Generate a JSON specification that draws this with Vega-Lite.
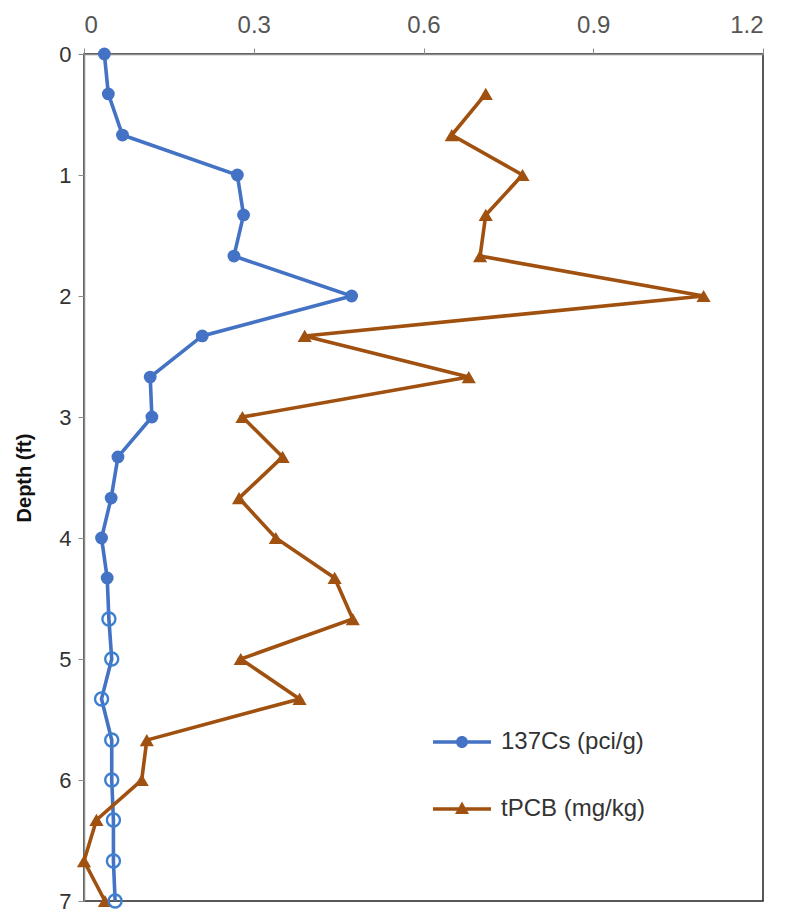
{
  "$schema": "https://vega.github.io/schema/vega-lite/v6.json",
  "autosize": "none",
  "width": 679,
  "height": 847,
  "padding": {"left": 84, "top": 54, "right": 26, "bottom": 15},
  "background": "white",
  "config": {
    "font": "Liberation Sans",
    "view": {"stroke": "#222222", "strokeWidth": 1.5},
    "axis": {"grid": false, "labelFont": "Liberation Sans", "labelFontSize": 24, "labelColor": "#555555", "domainColor": "#8a8a8a", "tickColor": "#8a8a8a", "tickSize": 6, "domainWidth": 1.5}
  },
  "data": {
    "values": [
      {"series": "137Cs (pci/g)", "depth": 0, "value": 0.036, "filled": true},
      {"series": "137Cs (pci/g)", "depth": 0.33, "value": 0.043, "filled": true},
      {"series": "137Cs (pci/g)", "depth": 0.67, "value": 0.068, "filled": true},
      {"series": "137Cs (pci/g)", "depth": 1.0, "value": 0.271, "filled": true},
      {"series": "137Cs (pci/g)", "depth": 1.33, "value": 0.282, "filled": true},
      {"series": "137Cs (pci/g)", "depth": 1.67, "value": 0.265, "filled": true},
      {"series": "137Cs (pci/g)", "depth": 2.0, "value": 0.473, "filled": true},
      {"series": "137Cs (pci/g)", "depth": 2.33, "value": 0.209, "filled": true},
      {"series": "137Cs (pci/g)", "depth": 2.67, "value": 0.117, "filled": true},
      {"series": "137Cs (pci/g)", "depth": 3.0, "value": 0.12, "filled": true},
      {"series": "137Cs (pci/g)", "depth": 3.33, "value": 0.06, "filled": true},
      {"series": "137Cs (pci/g)", "depth": 3.67, "value": 0.048, "filled": true},
      {"series": "137Cs (pci/g)", "depth": 4.0, "value": 0.031, "filled": true},
      {"series": "137Cs (pci/g)", "depth": 4.33, "value": 0.041, "filled": true},
      {"series": "137Cs (pci/g)", "depth": 4.67, "value": 0.044, "filled": false},
      {"series": "137Cs (pci/g)", "depth": 5.0, "value": 0.049, "filled": false},
      {"series": "137Cs (pci/g)", "depth": 5.33, "value": 0.031, "filled": false},
      {"series": "137Cs (pci/g)", "depth": 5.67, "value": 0.049, "filled": false},
      {"series": "137Cs (pci/g)", "depth": 6.0, "value": 0.049, "filled": false},
      {"series": "137Cs (pci/g)", "depth": 6.33, "value": 0.052, "filled": false},
      {"series": "137Cs (pci/g)", "depth": 6.67, "value": 0.052, "filled": false},
      {"series": "137Cs (pci/g)", "depth": 7.0, "value": 0.055, "filled": false},
      {"series": "tPCB (mg/kg)", "depth": 0.33, "value": 0.71, "filled": true},
      {"series": "tPCB (mg/kg)", "depth": 0.67, "value": 0.65, "filled": true},
      {"series": "tPCB (mg/kg)", "depth": 1.0, "value": 0.775, "filled": true},
      {"series": "tPCB (mg/kg)", "depth": 1.33, "value": 0.71, "filled": true},
      {"series": "tPCB (mg/kg)", "depth": 1.67, "value": 0.70, "filled": true},
      {"series": "tPCB (mg/kg)", "depth": 2.0, "value": 1.095, "filled": true},
      {"series": "tPCB (mg/kg)", "depth": 2.33, "value": 0.39, "filled": true},
      {"series": "tPCB (mg/kg)", "depth": 2.67, "value": 0.68, "filled": true},
      {"series": "tPCB (mg/kg)", "depth": 3.0, "value": 0.28, "filled": true},
      {"series": "tPCB (mg/kg)", "depth": 3.33, "value": 0.351, "filled": true},
      {"series": "tPCB (mg/kg)", "depth": 3.67, "value": 0.274, "filled": true},
      {"series": "tPCB (mg/kg)", "depth": 4.0, "value": 0.339, "filled": true},
      {"series": "tPCB (mg/kg)", "depth": 4.33, "value": 0.443, "filled": true},
      {"series": "tPCB (mg/kg)", "depth": 4.67, "value": 0.475, "filled": true},
      {"series": "tPCB (mg/kg)", "depth": 5.0, "value": 0.277, "filled": true},
      {"series": "tPCB (mg/kg)", "depth": 5.33, "value": 0.381, "filled": true},
      {"series": "tPCB (mg/kg)", "depth": 5.67, "value": 0.111, "filled": true},
      {"series": "tPCB (mg/kg)", "depth": 6.0, "value": 0.102, "filled": true},
      {"series": "tPCB (mg/kg)", "depth": 6.33, "value": 0.022, "filled": true},
      {"series": "tPCB (mg/kg)", "depth": 6.67, "value": 0.0, "filled": true},
      {"series": "tPCB (mg/kg)", "depth": 7.0, "value": 0.037, "filled": true}
    ]
  },
  "encoding": {
    "x": {
      "field": "value", "type": "quantitative",
      "scale": {"domain": [0, 1.2], "nice": false, "zero": false},
      "axis": {"orient": "top", "title": null, "values": [0, 0.3, 0.6, 0.9, 1.2], "labelPadding": 11, "format": "~g"}
    },
    "y": {
      "field": "depth", "type": "quantitative",
      "scale": {"domain": [0, 7], "reverse": true, "nice": false, "zero": false},
      "axis": {"title": "Depth (ft)", "titleFont": "Liberation Sans", "titleFontSize": 20, "titleFontWeight": "bold", "titleColor": "#111111", "titlePadding": 24, "values": [0, 1, 2, 3, 4, 5, 6, 7], "labelPadding": 7, "labelFontSize": 22, "labelColor": "#333333"}
    }
  },
  "layer": [
    {
      "mark": {"type": "line", "strokeWidth": 3.6, "clip": false},
      "encoding": {
        "color": {
          "field": "series", "type": "nominal",
          "scale": {"domain": ["137Cs (pci/g)", "tPCB (mg/kg)"], "range": ["#4472C4", "#A0500F"]},
          "legend": {
            "title": null, "orient": "none", "legendX": 366, "legendY": 676,
            "labelFontSize": 24, "labelFont": "Liberation Sans", "labelColor": "#333333",
            "symbolSize": 400, "rowPadding": 43, "labelOffset": 27, "padding": 0,
            "encode": {
              "symbols": {
                "update": {
                  "shape": {"signal": "datum.value == '137Cs (pci/g)' ? 'M-2.9,-0.17L2.9,-0.17L2.9,0.17L-2.9,0.17Z M-0.6,0 A0.6,0.6 0 1,1 0.6,0 A0.6,0.6 0 1,1 -0.6,0Z' : 'M-2.9,-0.17L2.9,-0.17L2.9,0.17L-2.9,0.17Z M0,-0.75L0.7,0.5L-0.7,0.5Z'"},
                  "fill": {"signal": "datum.value == '137Cs (pci/g)' ? '#4472C4' : '#A0500F'"},
                  "stroke": {"value": "transparent"},
                  "strokeWidth": {"value": 0},
                  "opacity": {"value": 1}
                }
              }
            }
          }
        },
        "order": {"field": "depth", "type": "quantitative"}
      }
    },
    {
      "transform": [{"filter": "datum.series == 'tPCB (mg/kg)'"}],
      "mark": {"type": "point", "filled": true, "opacity": 1, "shape": "triangle-up", "size": 200, "color": "#A0500F", "clip": false}
    },
    {
      "transform": [{"filter": "datum.series == '137Cs (pci/g)' && datum.filled"}],
      "mark": {"type": "point", "filled": true, "opacity": 1, "shape": "circle", "size": 165, "color": "#4472C4", "clip": false}
    },
    {
      "transform": [{"filter": "datum.series == '137Cs (pci/g)' && !datum.filled"}],
      "mark": {"type": "point", "filled": false, "opacity": 1, "shape": "circle", "size": 170, "strokeWidth": 2.4, "color": "#3F7FD0", "clip": false}
    }
  ]
}
